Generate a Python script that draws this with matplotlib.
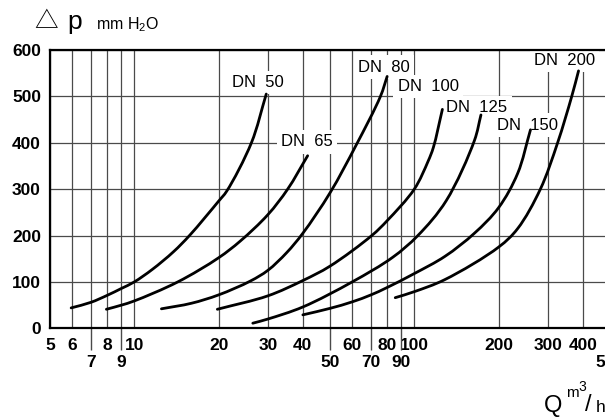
import numpy as np
import matplotlib
matplotlib.use('Agg')
import matplotlib.pyplot as plt
from matplotlib.path import Path
from matplotlib.patches import PathPatch
from matplotlib.ticker import FixedLocator, FixedFormatter

plt.rcParams['font.family'] = ['Liberation Sans', 'DejaVu Sans']

# pressure loss curves, Q in m3/h, dp in mm H2O
q_dn50 = [5.95, 7, 8, 9, 10, 11.6, 13.8, 15.8, 20, 21.4, 26.2, 29.6]
dp_dn50 = [44, 56, 71, 86, 100, 127, 165, 201, 274, 296, 400, 505]

q_dn65 = [7.95, 9, 10, 14.3, 20, 23.9, 30, 35.3, 41.6]
dp_dn65 = [41, 50, 59, 100, 152, 188, 245, 300, 372]

q_dn80 = [12.5, 16, 20, 26, 30, 35, 40, 50, 62, 75.7, 80]
dp_dn80 = [42, 54, 72, 102, 125, 163, 205, 292, 395, 500, 543]

q_dn100 = [19.8, 30, 40, 50, 70.5, 80, 100, 112, 117, 126]
dp_dn100 = [41, 70, 103, 134, 200, 232, 300, 360, 390, 472]

q_dn125 = [26.5, 30, 40, 60, 83.7, 103, 130, 164, 173]
dp_dn125 = [11, 20, 46, 100, 153, 200, 275, 405, 460]

q_dn150 = [40, 50, 60, 70, 80, 100, 128.6, 164, 200, 234, 260]
dp_dn150 = [29, 43, 57, 72, 88, 118, 155, 205, 260, 334, 428]

q_dn200 = [85.5, 100, 128.6, 200, 234, 282, 325, 365, 386]
dp_dn200 = [66, 79, 105, 175, 215, 300, 400, 500, 555]

curve_names = ['DN  50', 'DN  65', 'DN  80', 'DN  100', 'DN  125', 'DN  150', 'DN  200']

x_row1 = [5, 6, 8, 10, 20, 30, 40, 60, 80, 100, 200, 300, 400]
x_row2 = [7, 9, 50, 70, 90, 500]
y_ticks = [0, 100, 200, 300, 400, 500, 600]

# screen scale of the chart: pixels per decade of Q and per mm H2O
PX_DECADE = 280.0
PX_UNIT = 0.4638


def smooth_path(q, dp):
    # centripetal Catmull-Rom through the read points, drawn as cubic Bezier segments
    pts = np.column_stack([PX_DECADE * np.log10(q), PX_UNIT * np.asarray(dp, dtype=float)])
    ext = np.vstack([2 * pts[0] - pts[1], pts, 2 * pts[-1] - pts[-2]])
    verts = [pts[0]]
    codes = [Path.MOVETO]
    for i in range(len(pts) - 1):
        p0, p1, p2, p3 = ext[i], ext[i + 1], ext[i + 2], ext[i + 3]
        d0 = np.linalg.norm(p1 - p0) ** 0.5
        d1 = np.linalg.norm(p2 - p1) ** 0.5
        d2 = np.linalg.norm(p3 - p2) ** 0.5
        m1 = ((p1 - p0) / d0 - (p2 - p0) / (d0 + d1) + (p2 - p1) / d1) * d1
        m2 = ((p2 - p1) / d1 - (p3 - p1) / (d1 + d2) + (p3 - p2) / d2) * d1
        verts += [p1 + m1 / 3, p2 - m2 / 3, p2]
        codes += [Path.CURVE4] * 3
    verts = np.array(verts)
    verts[:, 0] = 10 ** (verts[:, 0] / PX_DECADE)
    verts[:, 1] = verts[:, 1] / PX_UNIT
    return Path(verts, codes)


W, H = 605, 419
fig = plt.figure(figsize=(W / 100, H / 100), dpi=100)
ax = fig.add_axes([50 / W, (H - 328.3) / H, 560 / W, (328.3 - 50) / H])

ax.set_xscale('log')
ax.set_xlim(5, 500)
ax.set_ylim(0, 600)

grid_col = '#4a4a4a'
ax.xaxis.set_major_locator(FixedLocator(x_row1))
ax.xaxis.set_major_formatter(FixedFormatter([str(v) for v in x_row1]))
ax.xaxis.set_minor_locator(FixedLocator(x_row2))
ax.xaxis.set_minor_formatter(FixedFormatter([str(v) for v in x_row2]))
ax.set_yticks(y_ticks)
ax.set_yticklabels([str(v) for v in y_ticks])

ax.tick_params(axis='x', which='major', length=0, pad=7, labelsize=12.5)
ax.tick_params(axis='x', which='minor', length=16, width=1, color=grid_col,
               direction='out', pad=3.5, labelsize=12.5)
ax.tick_params(axis='y', length=0, pad=6.5, labelsize=12.5)
for lab in ax.get_xticklabels(which='both') + ax.get_yticklabels():
    lab.set_fontweight('bold')

ax.set_axisbelow(True)
ax.grid(True, which='both', axis='x', color=grid_col, lw=0.9)
ax.grid(True, which='major', axis='y', color=grid_col, lw=0.9)

for side in ['left', 'bottom', 'top']:
    ax.spines[side].set_linewidth(1.6)
ax.spines['right'].set_visible(False)

series = [(q_dn50, dp_dn50), (q_dn65, dp_dn65), (q_dn80, dp_dn80), (q_dn100, dp_dn100),
          (q_dn125, dp_dn125), (q_dn150, dp_dn150), (q_dn200, dp_dn200)]
for q, dp in series:
    ax.add_patch(PathPatch(smooth_path(q, dp), facecolor='none', edgecolor='black',
                           lw=2.0, capstyle='round', zorder=3))

# curve labels (white box cuts the grid behind them)
label_pos = [(27.7, 530), (41.4, 402), (78, 563), (112, 521), (167.5, 475), (254.7, 438), (344, 577)]
for name, (lx, ly) in zip(curve_names, label_pos):
    ax.text(lx, ly, name, ha='center', va='center', fontsize=12, zorder=2.5,
            bbox=dict(facecolor='white', edgecolor='none', pad=3))

# axis titles
fig.text(46 / W, 1 - 22 / H, '\u25b3', ha='center', va='center', fontsize=17,
         family=['Noto Sans CJK SC', 'DejaVu Sans'])
fig.text(67 / W, 1 - 29 / H, 'p', ha='left', va='baseline', fontsize=19)
fig.text(96 / W, 1 - 29 / H, r'mm H$\mathregular{_2}$O', ha='left', va='baseline', fontsize=11.5)

fig.text(544 / W, 1 - 412 / H, 'Q', ha='left', va='baseline', fontsize=17)
fig.text(566 / W, 1 - 397 / H, 'm', ha='left', va='baseline', fontsize=11)
fig.text(578 / W, 1 - 391 / H, '3', ha='left', va='baseline', fontsize=10)
fig.text(585 / W, 1 - 411 / H, '/', ha='left', va='baseline', fontsize=17)
fig.text(596 / W, 1 - 412 / H, 'h', ha='left', va='baseline', fontsize=12.5)

fig.savefig('out.png', dpi=100)
